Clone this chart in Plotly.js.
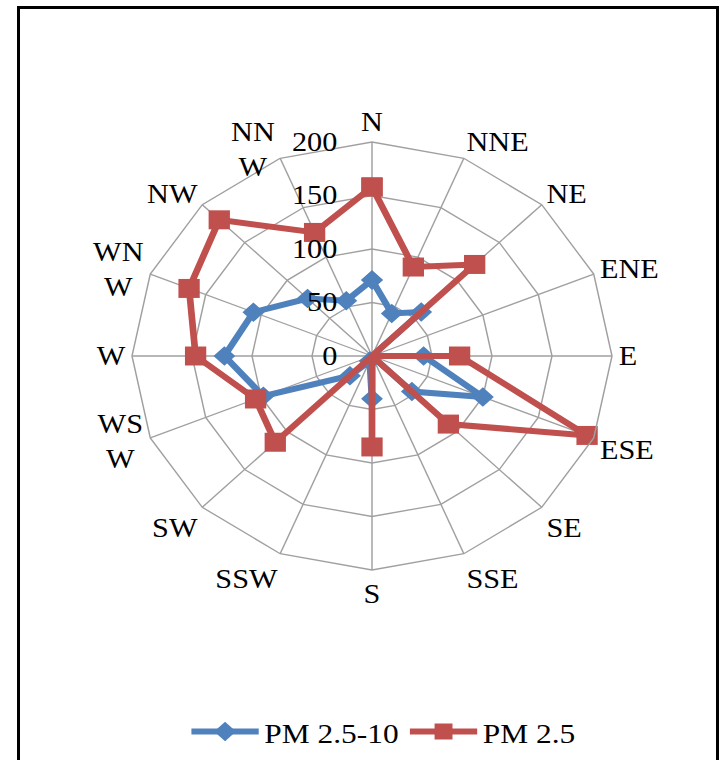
<!DOCTYPE html>
<html>
<head>
<meta charset="utf-8">
<script src="https://cdn.plot.ly/plotly-3.0.1.min.js"></script>
<style>
  html, body { margin: 0; padding: 0; background: #fff; width: 720px; height: 760px; overflow: hidden; }
  #wrap { position: absolute; left: 0; top: 0; width: 642px; height: 760px; transform: scaleX(1.1215); transform-origin: 0 0; }
  #frame { position: absolute; left: 17px; top: 6px; width: 702px; height: 758px; border: 3px solid #000; box-sizing: border-box; pointer-events: none; }
</style>
</head>
<body>
<div id="wrap"><div id="chart"></div></div>
<div id="frame"></div>
<script>
// Wind directions (categories)
const directions = ["N","NNE","NE","ENE","E","ESE","SE","SSE","S","SSW","SW","WSW","W","WNW","NW","NNW"];
// Tick labels as printed (some wrapped onto two lines)
const directionLabels = ["N","NNE","NE","ENE","E","ESE","SE","SSE","S","SSW","SW","WS<br>W","W","WN<br>W","NW","NN<br>W"];
// Series values
const pm25_10 = [71, 43, 58, 0, 43, 100, 47, 0, 40, 5, 26, 98, 123, 107, 76, 56];
const pm25    = [158, 90, 121, 0, 73, 194, 90, 0, 85, 0, 114, 105, 147, 165, 180, 125];
// Radial ticks
const radialTicks = [0, 50, 100, 150, 200];

const closed = a => a.concat([a[0]]);
const font = "Liberation Serif, Times New Roman, serif";

const W = 642, H = 760, cx = 331.7, cy = 356, R = 214, SX = 1.1215;

// wrapped labels are placed as annotations (positions in final pixels)
const wrappedPos = { "WSW": [121, 441], "WNW": [118, 269.5], "NNW": [253, 149.5] };
const tickText = directions.map((d, i) => wrappedPos[d] ? "" : directionLabels[i]);
const annotations = directions.filter(d => wrappedPos[d]).map(d => ({
  xref: "paper", yref: "paper",
  x: wrappedPos[d][0] / SX / W,
  y: (H - wrappedPos[d][1]) / H,
  xanchor: "center", yanchor: "middle",
  text: directionLabels[directions.indexOf(d)],
  showarrow: false, align: "center",
  font: { family: font, size: 27, color: "#000" }
}));

const traces = [
  {
    type: "scatterpolar",
    name: "PM 2.5-10",
    r: closed(pm25_10),
    theta: closed(directions),
    mode: "lines+markers",
    line: { color: "#4F81BD", width: 6 },
    marker: { symbol: "diamond", size: 15, color: "#4F81BD" },
    cliponaxis: false
  },
  {
    type: "scatterpolar",
    name: "PM 2.5",
    r: closed(pm25),
    theta: closed(directions),
    mode: "lines+markers",
    line: { color: "#C0504D", width: 6 },
    marker: { symbol: "square", size: 19, color: "#C0504D" },
    cliponaxis: false
  }
];

const layout = {
  width: W, height: H,
  margin: { l: 0, r: 0, t: 0, b: 0 },
  paper_bgcolor: "#fff",
  font: { family: font, size: 27, color: "#000" },
  showlegend: true,
  legend: {
    orientation: "h",
    x: 0.533, xanchor: "center",
    y: 0.037, yanchor: "middle",
    font: { family: font, size: 28, color: "#000" },
    itemwidth: 60,
    tracegroupgap: 0
  },
  annotations: annotations,
  polar: {
    domain: { x: [(cx - R) / W, (cx + R) / W], y: [(H - cy - R) / H, (H - cy + R) / H] },
    gridshape: "linear",
    bgcolor: "#fff",
    angularaxis: {
      type: "category",
      categoryorder: "array",
      categoryarray: directions,
      tickmode: "array",
      tickvals: directions,
      ticktext: tickText,
      direction: "clockwise",
      rotation: 90,
      showline: true,
      linecolor: "#a0a0a0",
      linewidth: 1.3,
      gridcolor: "#a0a0a0",
      gridwidth: 1.3,
      ticks: "",
      tickfont: { family: font, size: 27, color: "#000" }
    },
    radialaxis: {
      range: [0, 200],
      tickmode: "array",
      tickvals: radialTicks,
      ticktext: radialTicks.map(String),
      angle: 90,
      side: "counterclockwise",
      showline: false,
      ticks: "outside",
      ticklen: 21,
      tickcolor: "rgba(0,0,0,0)",
      gridcolor: "#a0a0a0",
      gridwidth: 1.3,
      tickfont: { family: font, size: 27, color: "#000" },
      tickangle: 90
    }
  }
};

Plotly.newPlot("chart", traces, layout, { displayModeBar: false, staticPlot: true });
</script>
</body>
</html>
